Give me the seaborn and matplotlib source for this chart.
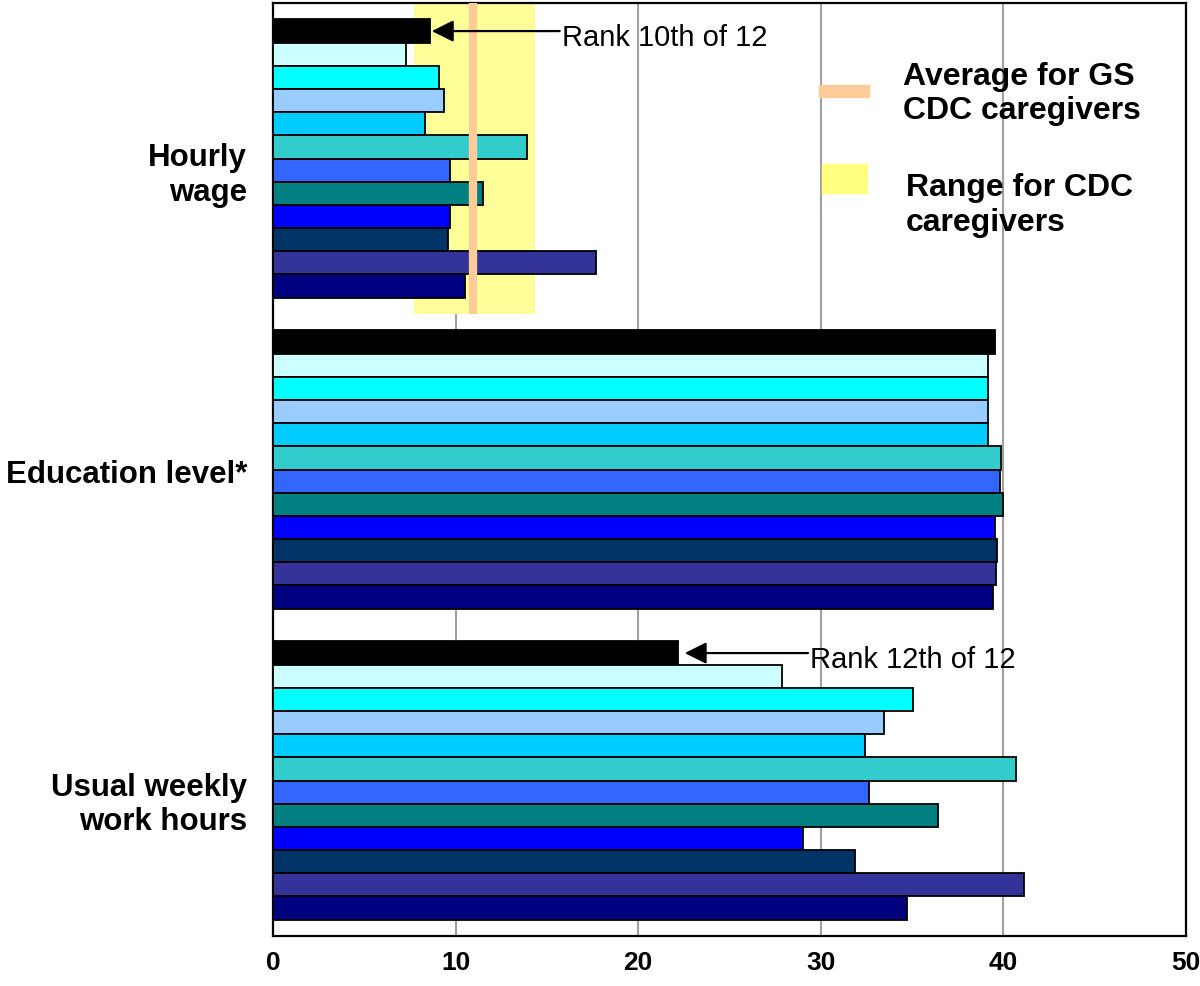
import matplotlib
matplotlib.use("Agg")
import matplotlib.pyplot as plt
from matplotlib.patches import Rectangle
from matplotlib.transforms import blended_transform_factory
import seaborn as sns
import pandas as pd

# ---- data ----
groups = ["Hourly wage", "Education level*", "Usual weekly work hours"]
group_labels = ["Hourly\nwage", "Education level*", "Usual weekly\nwork hours"]
series = [f"S{i+1}" for i in range(12)]
colors = ["#000000", "#CCFFFF", "#00FFFF", "#99CCFF", "#00CCFF", "#33CCCC",
          "#3366FF", "#008080", "#0000FF", "#003366", "#333399", "#000080"]
hourly_wage = [8.6, 7.3, 9.1, 9.35, 8.3, 13.9, 9.7, 11.5, 9.7, 9.6, 17.7, 10.5]
education = [39.56, 39.18, 39.18, 39.18, 39.18, 39.87, 39.84, 39.98, 39.55, 39.66, 39.62, 39.41]
weekly_hours = [22.2, 27.85, 35.06, 33.47, 32.42, 40.7, 32.64, 36.43, 29.0, 31.88, 41.15, 34.72]
range_low, range_high = 7.7, 14.37
average_gs = 10.95
xticks = [0, 10, 20, 30, 40, 50]

rows = []
for g, vals in zip(groups, [hourly_wage, education, weekly_hours]):
    for s, v in zip(series, vals):
        rows.append({"group": g, "series": s, "value": v})
df = pd.DataFrame(rows)

sns.set_style("white")
plt.rcParams["font.family"] = ["Liberation Sans", "DejaVu Sans"]
plt.rcParams["text.color"] = "black"
plt.rcParams["xtick.color"] = "black"
plt.rcParams["ytick.color"] = "black"
plt.rcParams["axes.labelcolor"] = "black"

fig = plt.figure(figsize=(12, 9.86), dpi=100)
ax = fig.add_axes([273/1200, 1 - 936/986, (1186-273)/1200, (936-3)/986])

sns.barplot(data=df, y="group", x="value", hue="series", order=groups,
            hue_order=series, palette=colors, orient="h", width=0.894,
            saturation=1, edgecolor="black", linewidth=1.3, errorbar=None,
            legend=False, ax=ax, zorder=3)

ax.set_xlim(0, 50)
ax.set_ylim(2.5, -0.5)

# grid lines
for x in xticks[1:-1]:
    ax.axvline(x, color="#A0A0A0", lw=1.5, zorder=0)

# range band and average line for hourly wage
ax.fill_betweenx([-0.5, 0.5], range_low, range_high, color="#FFFF99", zorder=1, lw=0)
ax.plot([average_gs, average_gs], [-0.5, 0.5], color="#FFCC99", lw=6, zorder=5,
        solid_capstyle="butt")

# spines
for sp in ax.spines.values():
    sp.set_visible(True)
    sp.set_color("black")
    sp.set_linewidth(1.6)

# ticks
ax.set_xticks(xticks)
ax.set_xticklabels([str(t) for t in xticks], fontsize=19, fontweight="bold", color="black")
ax.tick_params(axis="x", direction="out", length=6, width=1.5, color="black", pad=5)
ax.set_yticks([0.5, 1.5])
ax.set_yticklabels([])
ax.tick_params(axis="y", direction="out", length=6, width=1.5, color="black")
ax.set_xlabel("")
ax.set_ylabel("")

# category labels
trans = blended_transform_factory(ax.transAxes, ax.transData)
label_y = [0.055, 1.018, 2.079]
for lab, yy in zip(group_labels, label_y):
    ax.text(-0.0285, yy, lab, transform=trans, ha="right", va="center",
            fontsize=22.5, fontweight="bold", linespacing=1.2, multialignment="right",
            color="black")

# rank annotations
bar_h = 0.894 / 12
first_bar_offset = -0.894 / 2 + bar_h / 2
ann = [("Rank 10th of 12", 0, 8.7, 15.7), ("Rank 12th of 12", 2, 22.55, 29.3)]
for txt, gi, head_x, tail_x in ann:
    yb = gi + first_bar_offset
    ax.annotate("", xy=(head_x, yb), xytext=(tail_x, yb),
                arrowprops=dict(arrowstyle="-|>,head_length=0.6,head_width=0.3",
                                color="black", lw=1.6,
                                mutation_scale=22, shrinkA=0, shrinkB=0),
                zorder=6)
    ax.text(tail_x + 0.1, yb + 0.022, txt, ha="left", va="center", fontsize=21,
            zorder=6, color="black")

# legend (manual)
fig.patches.append(Rectangle((819/1200, 1 - 97/986), 50/1200, 12/986,
                             transform=fig.transFigure, color="#FFCC99", zorder=10))
fig.patches.append(Rectangle((822/1200, 1 - 193/986), 45/1200, 29/986,
                             transform=fig.transFigure, color="#FFFF80", zorder=10))
fig.text(903/1200, 1 - 94/986, "Average for GS\nCDC caregivers", ha="left", va="center",
         fontsize=23, fontweight="bold", linespacing=1.2, color="black")
fig.text(906/1200, 1 - 205.5/986, "Range for CDC\ncaregivers", ha="left", va="center",
         fontsize=23, fontweight="bold", linespacing=1.2, color="black")

fig.savefig("out.png", dpi=100)
